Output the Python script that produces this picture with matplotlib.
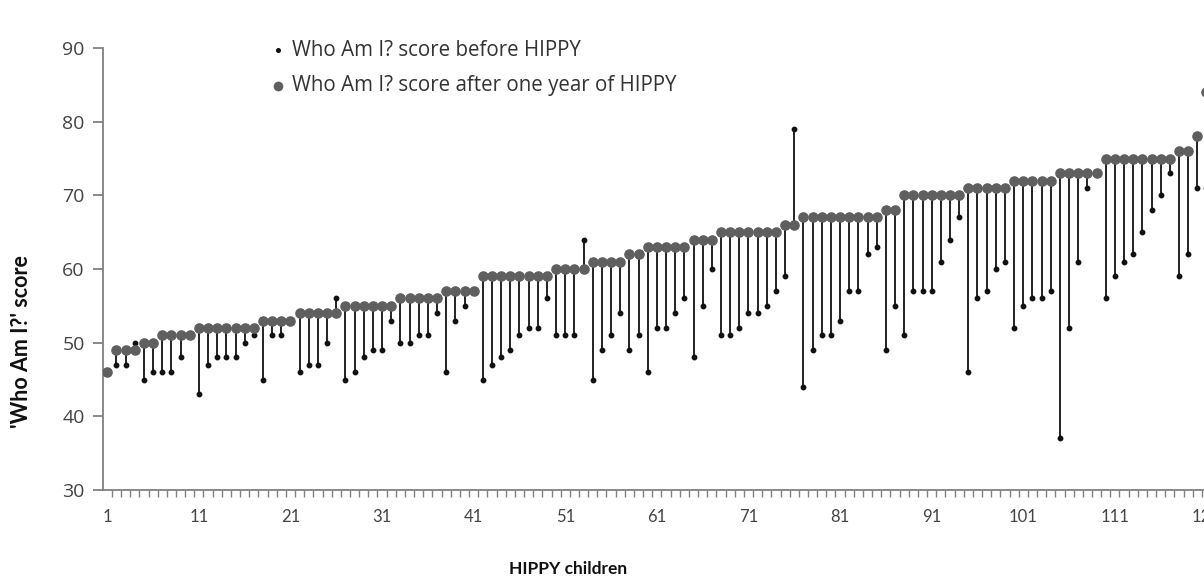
import matplotlib
matplotlib.use("Agg")
import matplotlib.pyplot as plt
import numpy as np

plt.rcParams['font.family'] = ['Lato', 'DejaVu Sans']

children = list(range(1, 122))

after_scores = [
    46, 49, 49, 49, 50, 50, 51, 51, 51, 51,
    52, 52, 52, 52, 52, 52, 52, 53, 53, 53,
    53, 54, 54, 54, 54, 54, 55, 55, 55, 55,
    55, 55, 56, 56, 56, 56, 56, 57, 57, 57,
    57, 59, 59, 59, 59, 59, 59, 59, 59, 60,
    60, 60, 60, 61, 61, 61, 61, 62, 62, 63,
    63, 63, 63, 63, 64, 64, 64, 65, 65, 65,
    65, 65, 65, 65, 66, 66, 67, 67, 67, 67,
    67, 67, 67, 67, 67, 68, 68, 70, 70, 70,
    70, 70, 70, 70, 71, 71, 71, 71, 71, 72,
    72, 72, 72, 72, 73, 73, 73, 73, 73, 75,
    75, 75, 75, 75, 75, 75, 75, 76, 76, 78,
    84,
]

before_scores = [
    46, 47, 47, 50, 45, 46, 46, 46, 48, 51,
    43, 47, 48, 48, 48, 50, 51, 45, 51, 51,
    53, 46, 47, 47, 50, 56, 45, 46, 48, 49,
    49, 53, 50, 50, 51, 51, 54, 46, 53, 55,
    57, 45, 47, 48, 49, 51, 52, 52, 56, 51,
    51, 51, 64, 45, 49, 51, 54, 49, 51, 46,
    52, 52, 54, 56, 48, 55, 60, 51, 51, 52,
    54, 54, 55, 57, 59, 79, 44, 49, 51, 51,
    53, 57, 57, 62, 63, 49, 55, 51, 57, 57,
    57, 61, 64, 67, 46, 56, 57, 60, 61, 52,
    55, 56, 56, 57, 37, 52, 61, 71, 73, 56,
    59, 61, 62, 65, 68, 70, 73, 59, 62, 71,
    71,
]

x_tick_labels = ["1", "11", "21", "31", "41", "51", "61", "71", "81", "91", "101", "111", "121"]
y_ticks = [30, 40, 50, 60, 70, 80, 90]

legend_before = "Who Am I? score before HIPPY"
legend_after = "Who Am I? score after one year of HIPPY"
y_label = "'Who Am I?' score"
x_label = "HIPPY children"

W, H = 1204, 585
fig = plt.figure(figsize=(W / 100, H / 100), dpi=100)

px_per_child = 9.16
xmin, xmax = 0.5, 122.5
ax_left = 102.7 / W
ax_bottom = (H - 490) / H
ax_height = 442 / H
ax_width = (xmax - xmin) * px_per_child / W
ax = fig.add_axes([ax_left, ax_bottom, ax_width, ax_height])

x = np.array(children)
b = np.array(before_scores)
a = np.array(after_scores)

ax.vlines(x, np.minimum(a, b), np.maximum(a, b), color="#111111", lw=1.3, zorder=2)
ax.plot(x, b, linestyle="none", marker="o", ms=3.2, color="#111111", zorder=3)
ax.plot(x, a, linestyle="none", marker="o", ms=6.6, color="#5f5f5f", zorder=4)

ax.set_xlim(xmin, xmax)
ax.set_ylim(30, 90)

for s in ["top", "right"]:
    ax.spines[s].set_visible(False)
for s in ["left", "bottom"]:
    ax.spines[s].set_color("#808080")
    ax.spines[s].set_linewidth(1.3)

ax.set_yticks(y_ticks)
ax.set_yticklabels([str(v) for v in y_ticks])
ax.tick_params(axis="y", direction="out", length=7, width=1.3, color="#808080",
               labelsize=14, labelcolor="#444444", pad=6)
for t in ax.get_yticklabels():
    t.set_family(['Open Sans', 'DejaVu Sans'])

major_pos = [1 + 10 * i for i in range(len(x_tick_labels))]
ax.set_xticks(major_pos)
ax.set_xticklabels(x_tick_labels)
ax.tick_params(axis="x", which="major", length=0, labelsize=12, labelcolor="#444444", pad=14)
ax.set_xticks(np.arange(1.5, 122, 1.0), minor=True)
ax.tick_params(axis="x", which="minor", direction="out", length=5, width=1.0, color="#808080")

fig.text(22 / W, 1 - 342 / H, y_label, rotation=90, ha="center", va="center",
         fontsize=15.5, fontweight="bold", color="#111111")
fig.text(568 / W, 1 - 569 / H, x_label, ha="center", va="center",
         fontsize=12.5, fontweight="bold", color="#111111")

# legend
fig.lines.append(plt.Line2D([278 / W], [1 - 50 / H], transform=fig.transFigure,
                            marker="o", ms=2.6, color="#111111", linestyle="none"))
fig.lines.append(plt.Line2D([278 / W], [1 - 86 / H], transform=fig.transFigure,
                            marker="o", ms=6.0, color="#5f5f5f", linestyle="none"))
fig.text(292 / W, 1 - 50 / H, legend_before, ha="left", va="center",
         fontsize=14.8, color="#333333", family=['Open Sans', 'DejaVu Sans'])
fig.text(292 / W, 1 - 86 / H, legend_after, ha="left", va="center",
         fontsize=14.8, color="#333333", family=['Open Sans', 'DejaVu Sans'])

fig.savefig("out.png", dpi=100)
